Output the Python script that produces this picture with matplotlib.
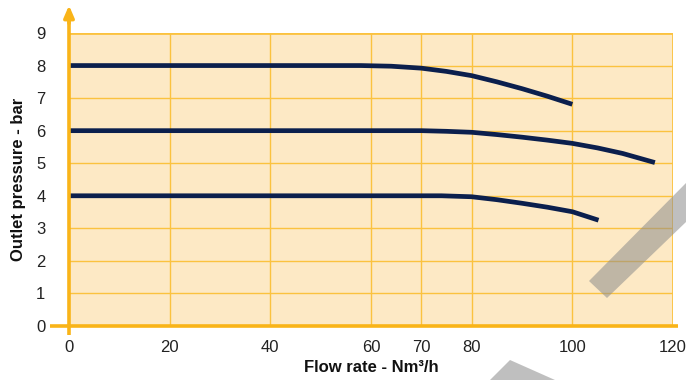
import matplotlib
matplotlib.use("Agg")
import matplotlib.pyplot as plt
from matplotlib.patches import Polygon

# ---- data ----
x_8bar = [0, 58, 64, 70, 75, 80, 85, 90, 95, 100]
y_8bar = [8, 8, 7.98, 7.92, 7.82, 7.69, 7.5, 7.29, 7.06, 6.81]
x_6bar = [0, 70, 75, 80, 85, 90, 95, 100, 105, 110, 116.4]
y_6bar = [6, 6, 5.98, 5.95, 5.88, 5.8, 5.71, 5.61, 5.47, 5.3, 5.02]
x_4bar = [0, 74, 80, 85, 90, 95, 100, 105.2]
y_4bar = [4, 4, 3.97, 3.88, 3.77, 3.65, 3.51, 3.25]

xticks = [0, 20, 40, 60, 70, 80, 100, 120]
yticks = [0, 1, 2, 3, 4, 5, 6, 7, 8, 9]
xlabel = "Flow rate - Nm³/h"
ylabel = "Outlet pressure - bar"

ORANGE = "#F9B418"
GRID = "#FBC23F"
FILL = "#FDE9C5"
NAVY = "#0B1F4D"

W, H = 686, 380
fig = plt.figure(figsize=(W / 100, H / 100), dpi=100)
ax = fig.add_axes([69 / W, (H - 326) / H, (673 - 69) / W, (326 - 33) / H])
ax.set_xlim(0, 120)
ax.set_ylim(0, 9)
ax.set_facecolor(FILL)

for s in ax.spines.values():
    s.set_visible(False)

# grid
for xv in xticks[1:-1]:
    ax.axvline(xv, color=GRID, lw=1.0, zorder=1)
for yv in yticks[1:-1]:
    ax.axhline(yv, color=GRID, lw=1.0, zorder=1)
ax.axhline(9, color=GRID, lw=2.0, zorder=1)
ax.axvline(120, color=GRID, lw=2.0, zorder=1)

# axes lines
ax.plot([-3.8, 121.0], [0, 0], color=ORANGE, lw=2.6, clip_on=False, zorder=5,
        solid_capstyle="butt")
ax.plot([0, 0], [-0.28, 9.5], color=ORANGE, lw=2.6, clip_on=False, zorder=5,
        solid_capstyle="butt")
ax.annotate("", xy=(0, 9.85), xytext=(0, 9.3),
            arrowprops=dict(arrowstyle="-|>,head_length=0.7,head_width=0.3",
                            color=ORANGE, lw=2.6, shrinkA=0, shrinkB=0),
            annotation_clip=False, zorder=6)

# curves
for xs, ys in [(x_8bar, y_8bar), (x_6bar, y_6bar), (x_4bar, y_4bar)]:
    ax.plot(xs, ys, color=NAVY, lw=3.4, zorder=4, solid_capstyle="butt",
            solid_joinstyle="round")

ax.set_xticks(xticks)
ax.set_yticks(yticks)
ax.tick_params(length=0, labelsize=12, colors="#222222")
ax.tick_params(axis="x", pad=10)
ax.tick_params(axis="y", pad=17)
for lab in ax.get_xticklabels() + ax.get_yticklabels():
    lab.set_family(["Liberation Sans Narrow", "Liberation Sans", "DejaVu Sans"])

lfont = dict(family=["Liberation Sans Narrow", "Liberation Sans", "DejaVu Sans"],
             weight="bold", size=12, color="#111111")
ax.set_xlabel(xlabel, labelpad=4, **lfont)
ax.set_ylabel(ylabel, labelpad=7, **lfont)

# watermark stripes
def px(pts):
    return [(x / W, 1 - y / H) for x, y in pts]

fig.patches.append(Polygon(px([(589, 281), (686, 183), (686, 222), (607, 298)]),
                           closed=True, transform=fig.transFigure,
                           facecolor="#8c8c8c", alpha=0.55, edgecolor="none", zorder=10))
fig.patches.append(Polygon(px([(510, 360), (555, 380), (490, 380)]),
                           closed=True, transform=fig.transFigure,
                           facecolor="#8c8c8c", alpha=0.55, edgecolor="none", zorder=10))

fig.savefig("out.png", dpi=100)
